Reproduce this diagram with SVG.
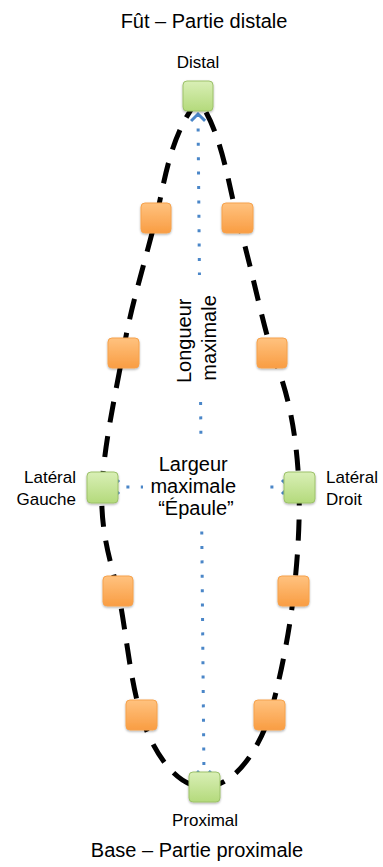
<svg xmlns="http://www.w3.org/2000/svg" width="383" height="867" viewBox="0 0 383 867">
  <style>
    text { font-family: "Liberation Sans", Arial, sans-serif; fill: #000; }
    .title { font-size: 20px; }
    .label { font-size: 17px; }
    .axis { font-size: 20px; }
    .outline { fill: none; stroke: #000; stroke-width: 5; stroke-dasharray: 21 14; }
    .measure { fill: none; stroke: #4a86c8; stroke-width: 3; stroke-dasharray: 3 11.4; }
    .green { fill: url(#gGreen); stroke: #9dc26b; stroke-width: 1; filter: url(#shadow); }
    .orange { fill: url(#gOrange); stroke: #f6a24d; stroke-width: 1; filter: url(#shadow); }
    .mask { fill: #fff; }
  </style>
  <defs>
    <linearGradient id="gGreen" x1="0" y1="0" x2="0" y2="1">
      <stop offset="0" stop-color="#d9efb6"/>
      <stop offset="1" stop-color="#b4da7c"/>
    </linearGradient>
    <linearGradient id="gOrange" x1="0" y1="0" x2="0" y2="1">
      <stop offset="0" stop-color="#ffc27f"/>
      <stop offset="1" stop-color="#f99d43"/>
    </linearGradient>
    <filter id="shadow" x="-20%" y="-20%" width="140%" height="150%">
      <feDropShadow dx="0" dy="1.2" stdDeviation="1" flood-color="#000" flood-opacity="0.3"/>
    </filter>
    <marker id="chev" viewBox="0 0 10 16" markerWidth="10" markerHeight="16" refX="9" refY="8"
            markerUnits="userSpaceOnUse" orient="auto-start-reverse" overflow="visible">
      <path d="M2,1 L9,8 L2,15" fill="none" stroke="#4a86c8" stroke-width="3" stroke-dasharray="none"/>
    </marker>
  </defs>

  <!-- titles -->
  <text class="title" x="204" y="28" text-anchor="middle">Fût – Partie distale</text>
  <text class="title" x="197" y="857" text-anchor="middle">Base – Partie proximale</text>

  <!-- connectors: outline and measurement lines -->
  <g id="connectors">
    <path class="outline" d="M198,100 C170,135 165,180 156,218 C140,280 130,310 123,353 C112,410 104,450 102,487 C100,530 110,560 118,591 C126,630 130,680 141,715 C152,750 175,787 204,787 C235,787 258,750 270,715 C280,680 290,630 294,591 C298,555 300,520 299,487 C297,440 290,395 272,353 C258,305 250,260 237,218 C228,180 220,128 198,100"/>
    <line class="measure" x1="198" y1="114" x2="204" y2="778" marker-start="url(#chev)" marker-end="url(#chev)"/>
    <line class="measure" x1="112" y1="487" x2="289" y2="487" marker-start="url(#chev)" marker-end="url(#chev)"/>
  </g>

  <!-- axis captions on white backing -->
  <g id="length-caption">
    <rect class="mask" x="170" y="275" width="56" height="120"/>
    <text class="axis" transform="translate(191,338) rotate(-90)" text-anchor="middle">
      <tspan x="0" y="0">Longueur</tspan>
      <tspan x="0" y="25">maximale</tspan>
    </text>
  </g>
  <g id="width-caption">
    <rect class="mask" x="143" y="442" width="117" height="88"/>
    <text class="axis" x="196" y="471" text-anchor="middle">
      <tspan x="196" y="471">Largeur</tspan>
      <tspan x="196" y="493">maximale</tspan>
      <tspan x="196" y="515">“Épaule”</tspan>
    </text>
  </g>

  <!-- landmark nodes -->
  <g id="distal">
    <rect class="green" x="183" y="81" width="30" height="30" rx="4"/>
    <text class="label" x="198" y="68" text-anchor="middle">Distal</text>
  </g>
  <g id="lateral-gauche">
    <rect class="green" x="87" y="472" width="31" height="31" rx="4"/>
    <text class="label" text-anchor="end"><tspan x="76" y="483">Latéral</tspan><tspan x="76" y="505">Gauche</tspan></text>
  </g>
  <g id="lateral-droit">
    <rect class="green" x="284" y="472" width="31" height="31" rx="4"/>
    <text class="label"><tspan x="326" y="483">Latéral</tspan><tspan x="326" y="505">Droit</tspan></text>
  </g>
  <g id="proximal">
    <rect class="green" x="189" y="772" width="31" height="30" rx="4"/>
    <text class="label" x="205" y="826" text-anchor="middle">Proximal</text>
  </g>

  <!-- intermediate points, left side -->
  <g id="pt-l1"><rect class="orange" x="141" y="203" width="30" height="30" rx="4"/></g>
  <g id="pt-l2"><rect class="orange" x="108" y="338" width="31" height="30" rx="4"/></g>
  <g id="pt-l3"><rect class="orange" x="103" y="576" width="30" height="30" rx="4"/></g>
  <g id="pt-l4"><rect class="orange" x="126" y="700" width="31" height="30" rx="4"/></g>

  <!-- intermediate points, right side -->
  <g id="pt-r1"><rect class="orange" x="222" y="203" width="31" height="30" rx="4"/></g>
  <g id="pt-r2"><rect class="orange" x="257" y="338" width="30" height="30" rx="4"/></g>
  <g id="pt-r3"><rect class="orange" x="278" y="576" width="31" height="30" rx="4"/></g>
  <g id="pt-r4"><rect class="orange" x="254" y="700" width="31" height="30" rx="4"/></g>
</svg>
